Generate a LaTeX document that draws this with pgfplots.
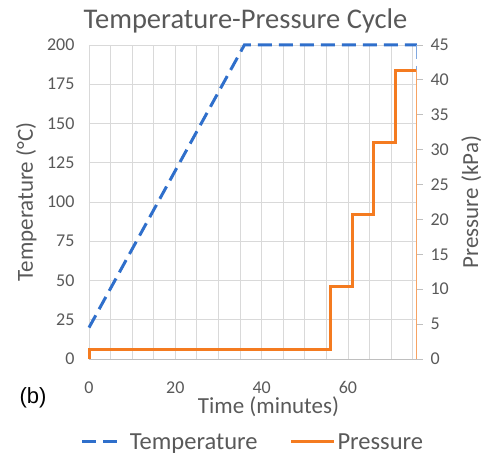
\documentclass[border=0pt]{standalone}
\usepackage{pgfplots}
\pgfplotsset{compat=1.18}
\usepackage{fontspec}
\setmainfont{Carlito}
\newfontfamily\arialf{Liberation Sans}
\definecolor{txt}{HTML}{595959}
\definecolor{tblue}{HTML}{2F6FCB}
\definecolor{porange}{HTML}{F47B20}
\definecolor{gridc}{HTML}{D9D9D9}
\definecolor{axc}{HTML}{BFBFBF}
\pgfplotsset{
  timg/.style={legend image code/.code={\draw[##1] (0pt,0pt) -- (35pt,0pt); \path (44pt,0pt);}},
  pimg/.style={legend image code/.code={\draw[##1] (0pt,0pt) -- (43pt,0pt);}},
  base/.style={
    at={(89pt,99pt)}, anchor=south west,
    scale only axis, width=328pt, height=314pt,
    xmin=0, xmax=76, clip=false,
    /pgf/number format/assume math mode=true,
    ticklabel style={font=\fontsize{18}{18}\selectfont, text=txt},
  }
}
\begin{document}
\begin{tikzpicture}[x=1pt,y=1pt]
\useasboundingbox (0,0) rectangle (491,458);
\begin{axis}[base,
  ymin=0, ymax=200,
  xtick={0,20,40,60}, minor xtick={5,10,15,25,30,35,45,50,55,65,70,75},
  ytick={0,25,...,200},
  grid=both,
  major grid style={gridc, line width=0.8pt},
  minor grid style={gridc, line width=0.8pt},
  axis x line*=bottom, axis y line*=left,
  x axis line style={axc, line width=0.8pt, -},
  y axis line style={draw=none},
  major tick length=0pt, minor tick length=0pt,
  xticklabel style={yshift=-19pt},
  yticklabel style={xshift=-11pt},
]
\addplot[tblue, line width=3pt, dash pattern=on 14pt off 7pt] coordinates {(0,20) (36,200) (76,200)};
\addplot[tblue!60, line width=1pt, dash pattern=on 14pt off 7pt] coordinates {(76,200) (76,20)};
\end{axis}
\begin{axis}[base,
  ymin=0, ymax=45,
  ytick={0,5,...,45},
  axis x line=none, axis y line*=right,
  y axis line style={draw=none},
  ytick style={axc, line width=0.8pt},
  tick align=outside, major tick length=6pt,
  yticklabel style={xshift=4pt},
  legend style={at={(0.5,-0.264)}, anchor=center, draw=none, fill=none,
    legend columns=2, font=\fontsize{24.5}{24.5}\selectfont, text=txt,
    /tikz/every even column/.append style={column sep=30pt}},
]
\addlegendimage{tblue, line width=3pt, dash pattern=on 14pt off 7pt, timg}
\addlegendentry{Temperature}
\addplot[porange, line width=3pt, pimg]
  coordinates {(0,0) (0,1.3) (56,1.3) (56,10.34) (61,10.34) (61,20.68) (66,20.68) (66,31.03) (71,31.03) (71,41.37) (75.8,41.37)};
\addlegendentry{Pressure}
\addplot[porange!70, line width=1pt, forget plot] coordinates {(75.8,41.37) (75.8,0)};
\end{axis}
\node[anchor=base, text=txt, font=\fontsize{28.5}{28.5}\selectfont] at (245.5,429) {Temperature-Pressure Cycle};
\node[anchor=base, text=txt, font=\fontsize{23}{23}\selectfont] at (268.5,44) {Time (minutes)};
\node[anchor=base, rotate=90, text=txt, font=\fontsize{23}{23}\selectfont] at (33,256) {Temperature (°C)};
\node[anchor=base, rotate=90, text=txt, font=\fontsize{23}{23}\selectfont] at (478,256) {Pressure (kPa)};
\node[text=black, font=\arialf\fontsize{22}{22}\selectfont] at (33,60) {(b)};
\end{tikzpicture}
\end{document}
